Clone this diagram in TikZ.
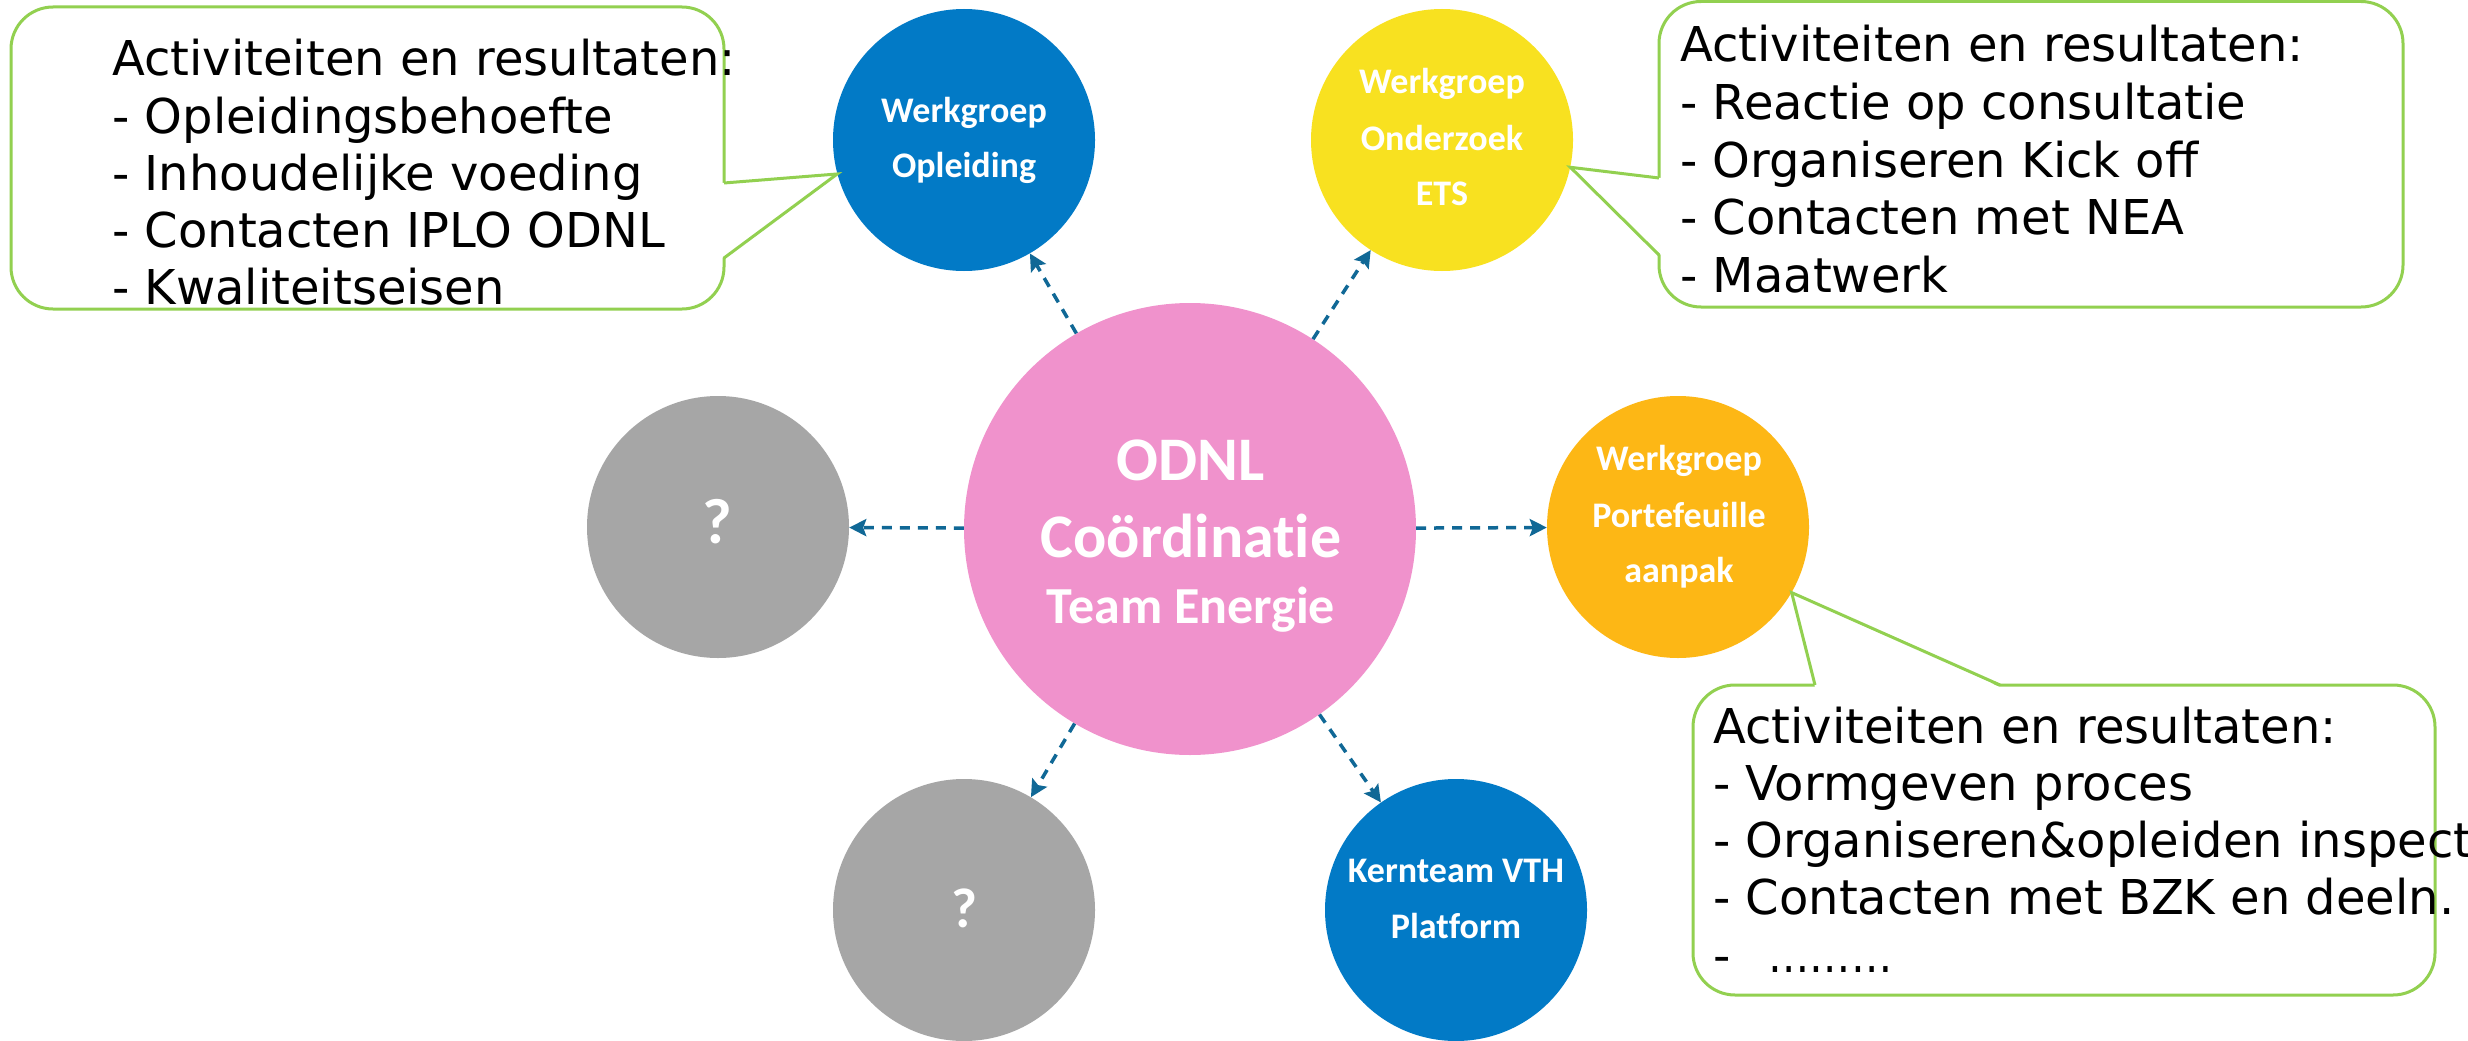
\documentclass[tikz,border=0pt]{standalone}
\usepackage{fontspec}
\usepackage{graphicx}
\setmainfont{DejaVu Sans}
\newfontfamily\carlitofont[Ligatures=NoCommon]{Carlito}
\usetikzlibrary{arrows.meta}
\definecolor{cblue}{RGB}{2,122,198}
\definecolor{cyellow}{RGB}{248,225,32}
\definecolor{cpink}{RGB}{240,146,204}
\definecolor{corange}{RGB}{253,183,21}
\definecolor{cgray}{RGB}{166,166,166}
\definecolor{cgreen}{RGB}{146,208,80}
\definecolor{carrow}{RGB}{16,104,150}
\begin{document}
\begin{tikzpicture}[x=1pt,y=-1pt,
  bub/.style={circle, minimum size=262pt, inner sep=0pt, draw=none},
  callout/.style={draw=cgreen, line width=3pt, fill=white, rounded corners=42pt, inner sep=0pt},
  ptr/.style={draw=cgreen, line width=3pt, line join=miter},
  conn/.style={draw=carrow, line width=3.5pt, dash pattern=on 10pt off 8pt, -{Stealth[length=17pt,width=17pt,inset=3pt]}},
  ctext/.style={text=white, font=\carlitofont\bfseries\fontsize{36}{43}\selectfont, anchor=base, inner sep=0pt},
  ltext/.style={text=black, font=\fontsize{48}{57}\selectfont, anchor=base west, inner sep=0pt}]
\useasboundingbox (0,0) rectangle (2468,1041);
\fill[white] (0,0) rectangle (2468,1041);

% callout boxes
\node[callout, minimum width=713pt, minimum height=302pt] (c1) at (367.5,158) {};
\node[callout, minimum width=744pt, minimum height=305.5pt] (c2) at (2031,154.25) {};
\node[callout, minimum width=742pt, minimum height=310pt] (c3) at (2064,840) {};

% circles
\node[bub, fill=cpink, minimum size=452pt] (pink) at (1190,529) {};
\node[bub, fill=cblue] (opl) at (964,140) {};
\node[bub, fill=cyellow] (ets) at (1442,140) {};
\node[bub, fill=cgray] (q1) at (718,527) {};
\node[bub, fill=corange] (port) at (1678,527) {};
\node[bub, fill=cgray] (q2) at (964,910) {};
\node[bub, fill=cblue] (kern) at (1456,910) {};

% pointer bases
\coordinate (p1a) at (724,183);
\coordinate (p1b) at (724,258);
\coordinate (p2a) at (1659,178);
\coordinate (p2b) at (1659,255);
\coordinate (p3a) at (1815,685);
\coordinate (p3b) at (2000,685);

\fill[white] ([xshift=-2.2pt]p1a) -- (opl.195) -- ([xshift=-2.2pt]p1b) -- cycle;
\draw[ptr] (p1a) -- (opl.195) -- (p1b);
\fill[white] ([xshift=2.2pt]p2a) -- (ets.-12) -- ([xshift=2.2pt]p2b) -- cycle;
\draw[ptr] (p2a) -- (ets.-12) -- (p2b);
\fill[white] ([yshift=-2.2pt]p3a) -- (port.-30) -- ([yshift=-2.2pt]p3b) -- cycle;
\draw[ptr] (p3a) -- (port.-30) -- (p3b);

% connectors
\draw[conn] (pink) -- (opl);
\draw[conn] (pink) -- (ets);
\draw[conn] (pink) -- (q1);
\draw[conn] (pink) -- (port);
\draw[conn] (pink) -- (q2);
\draw[conn] (pink) -- (kern);

% circle texts
\node[ctext, font=\carlitofont\bfseries\fontsize{62}{70}\selectfont] (pk1) at (1191,480) {ODNL};
\node[ctext, font=\carlitofont\bfseries\fontsize{62}{70}\selectfont] (pk2) at (1191,557) {Coördinatie};
\node[ctext, font=\carlitofont\bfseries\fontsize{52}{60}\selectfont] (pk3) at (1191,623) {Team Energie};

\node[ctext] (o1) at (964,122) {Werkgroep};
\node[ctext] (o2) at (964,177) {Opleiding};

\node[ctext] (e1) at (1442,93) {Werkgroep};
\node[ctext] (e2) at (1442,150) {Onderzoek};
\node[ctext] (e3) at (1442,205) {ETS};

\node[ctext] (r1) at (1679,470) {Werkgroep};
\node[ctext] (r2) at (1679,527) {Portefeuille};
\node[ctext] (r3) at (1679,582) {aanpak};

\node[ctext] (k1) at (1456,882) {Kernteam VTH};
\node[ctext] (k2) at (1456,938) {Platform};

\node[ctext, font=\carlitofont\bfseries\fontsize{64}{70}\selectfont] (qq1) at (717,543) {?};
\node[ctext, font=\carlitofont\bfseries\fontsize{56}{64}\selectfont] (qq2) at (964,927) {?};

% callout texts
\node[ltext] (a1) at (112,76) {Activiteiten en resultaten:};
\node[ltext] (a2) at (112,133) {- Opleidingsbehoefte};
\node[ltext] (a3) at (112,190) {- Inhoudelijke voeding};
\node[ltext] (a4) at (112,247) {- Contacten IPLO ODNL};
\node[ltext] (a5) at (112,304) {- Kwaliteitseisen};

\node[ltext] (b1) at (1680,62) {Activiteiten en resultaten:};
\node[ltext] (b2) at (1680,119.5) {- Reactie op consultatie};
\node[ltext] (b3) at (1680,177) {- Organiseren Kick off};
\node[ltext] (b4) at (1680,234.5) {- Contacten met NEA};
\node[ltext] (b5) at (1680,292) {- Maatwerk};

\node[ltext] (d1) at (1713,743) {Activiteiten en resultaten:};
\node[ltext] (d2) at (1713,800) {- Vormgeven proces};
\node[ltext] (d3) at (1713,857) {- Organiseren\&opleiden inspect};
\node[ltext] (d4) at (1713,914) {- Contacten met BZK en deeln.};
\node[ltext] (d5) at (1713,972) {-\hspace{38pt}\scalebox{0.86}[1]{………}};
\end{tikzpicture}
\end{document}
